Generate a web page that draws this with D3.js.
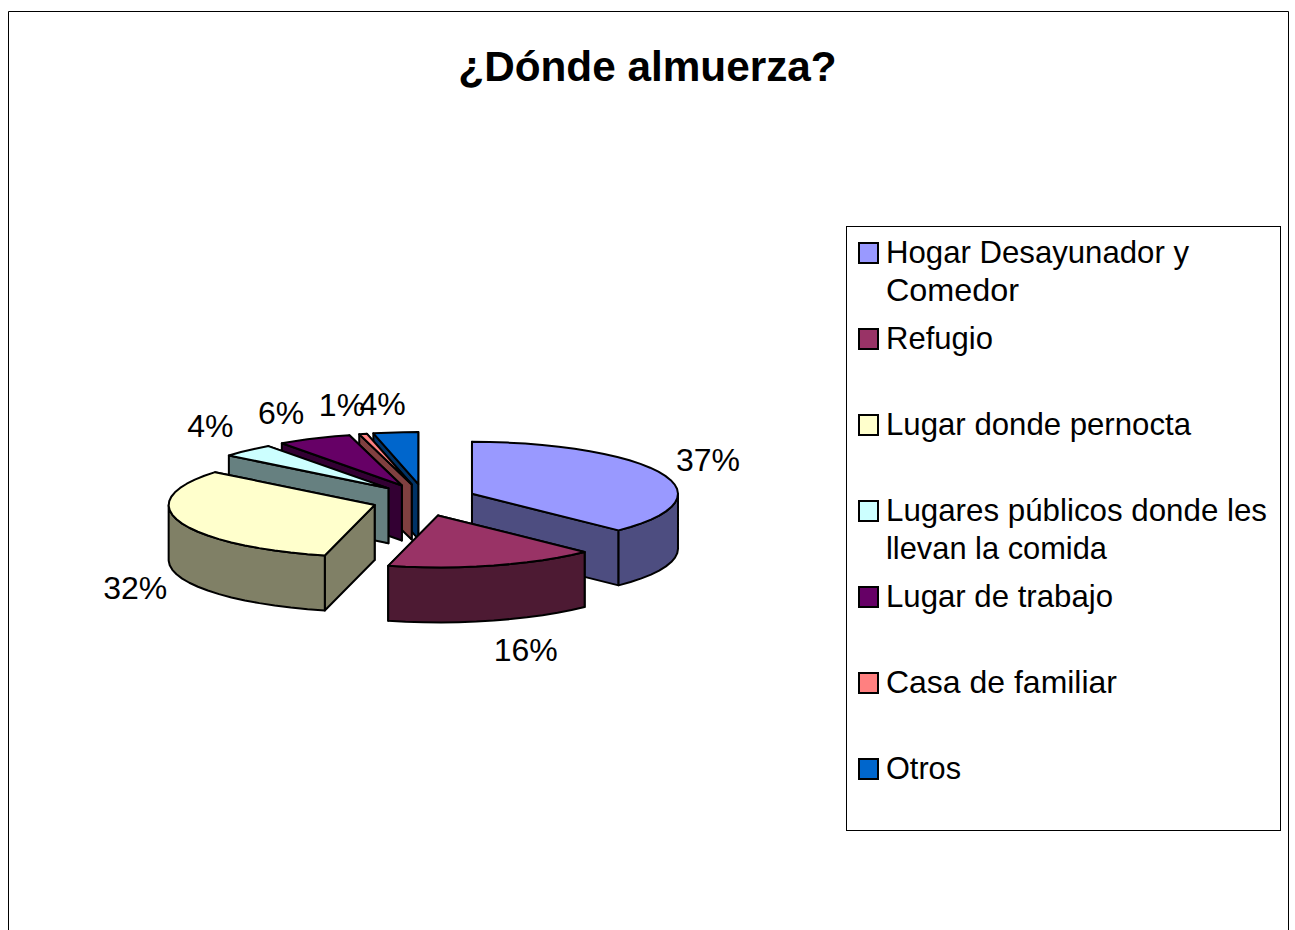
<!DOCTYPE html>
<html>
<head>
<meta charset="utf-8">
<script src="https://cdn.jsdelivr.net/npm/d3@7/dist/d3.min.js"></script>
<style>
html,body{margin:0;padding:0;background:#fff;overflow:hidden}
svg{display:block}
text{font-family:"Liberation Sans",Arial,sans-serif;fill:#000}
</style>
</head>
<body>
<svg id="c" width="1295" height="930"></svg>
<script>
const titleText = "¿Dónde almuerza?";
const categories = ["Hogar Desayunador y Comedor","Refugio","Lugar donde pernocta","Lugares públicos donde les llevan la comida","Lugar de trabajo","Casa de familiar","Otros"];
const values = [37.4,16.49,32.01,4.2,5.8,0.6,3.5];
const colors = ["#9999FF","#993366","#FFFFCC","#CCFFFF","#660066","#FF8080","#0066CC"];
const legendLines = [["Hogar Desayunador y","Comedor"],["Refugio"],["Lugar donde pernocta"],["Lugares públicos donde les","llevan la comida"],["Lugar de trabajo"],["Casa de familiar"],["Otros"]];
const legendWidths = [[303,133],[107],[305],[381,221],[227],[231],[75]];
const paintOrder = [6,5,4,3,2,0,1];
const labelNudge = [[46,-14],[32,84],[-44,66],[-37,-25],[-33,-26],[-21,-29],[-13,-29]];

const W=1295,H=930;
const cx=424,cy=500,rx=206,ry=52,ex=52,ey=16,depth=55,sw=2;
const svg=d3.select("#c");

svg.append("path").attr("d",`M8.5,${H}V11.5H1288.5V${H}`).attr("fill","#fff").attr("stroke","#000").attr("stroke-width",1);
svg.append("text").attr("x",647.5).attr("y",81).attr("text-anchor","middle").attr("font-size",42.3).attr("font-weight","bold").text(titleText);

const arcs=d3.pie().sort(null).value(d=>d)(values);
const line=d3.line().curve(d3.curveLinear);
const pt=(a,ax,ay,dz=0)=>[ax+rx*Math.sin(a),ay-ry*Math.cos(a)+dz];
const g=svg.append("g");

function slice(i){
  const d=arcs[i], mid=(d.startAngle+d.endAngle)/2;
  const ax=cx+ex*Math.sin(mid), ay=cy-ey*Math.cos(mid);
  const base=d3.rgb(colors[i]); const side=d3.rgb(base.r*.5,base.g*.5,base.b*.5).formatHex();
  const n=Math.max(2,Math.ceil((d.endAngle-d.startAngle)/0.09));
  const ts=d3.range(n+1).map(k=>d.startAngle+(d.endAngle-d.startAngle)*k/n);
  const rim=ts.map(a=>pt(a,ax,ay));
  const style=s=>s.attr("stroke","#000").attr("stroke-width",sw).attr("stroke-linejoin","round");
  [d.endAngle,d.startAngle].forEach(a=>{
    const p=pt(a,ax,ay),q=pt(a,ax,ay,depth);
    style(g.append("path").attr("fill",side).attr("d",line([[ax,ay],p,q,[ax,ay+depth]])+"Z"));
  });
  const front=ts.filter(a=>a>=Math.PI/2&&a<=Math.PI*1.5);
  if(d.startAngle<Math.PI*1.5&&d.endAngle>Math.PI/2){
    const as=[Math.max(d.startAngle,Math.PI/2),...front,Math.min(d.endAngle,Math.PI*1.5)];
    const upper=as.map(a=>pt(a,ax,ay)), lower=as.map(a=>pt(a,ax,ay,depth)).reverse();
    style(g.append("path").attr("fill",side).attr("d",line(upper.concat(lower))+"Z"));
  }
  style(g.append("path").attr("fill",colors[i]).attr("d",line([[ax,ay],...rim])+"Z"));
}
paintOrder.forEach(slice);

const pct=d3.format(".0f");
arcs.forEach((d,i)=>{
  const mid=(d.startAngle+d.endAngle)/2;
  const ax=cx+ex*Math.sin(mid), ay=cy-ey*Math.cos(mid);
  const p=pt(mid,ax,ay);
  svg.append("text").attr("x",p[0]+labelNudge[i][0]).attr("y",p[1]+labelNudge[i][1]).attr("dy","0.36em")
    .attr("text-anchor","middle").attr("font-size",32).text(pct(d.value)+"%");
});

svg.append("rect").attr("x",846.5).attr("y",226.5).attr("width",434).attr("height",604).attr("fill","#fff").attr("stroke","#000").attr("stroke-width",1);
const lineGap=37.5;
const rowBases=[263,349,435,521,607,693,779];
legendLines.forEach((ls,i)=>{
  const b=rowBases[i];
  svg.append("rect").attr("x",859).attr("y",b-20).attr("width",19).attr("height",20).attr("fill",colors[i]).attr("stroke","#000").attr("stroke-width",2);
  ls.forEach((t,k)=>svg.append("text").attr("x",886).attr("y",b+k*lineGap).attr("font-size",32)
    .attr("textLength",legendWidths[i][k]).attr("lengthAdjust","spacingAndGlyphs").text(t));
});
</script>
</body>
</html>
